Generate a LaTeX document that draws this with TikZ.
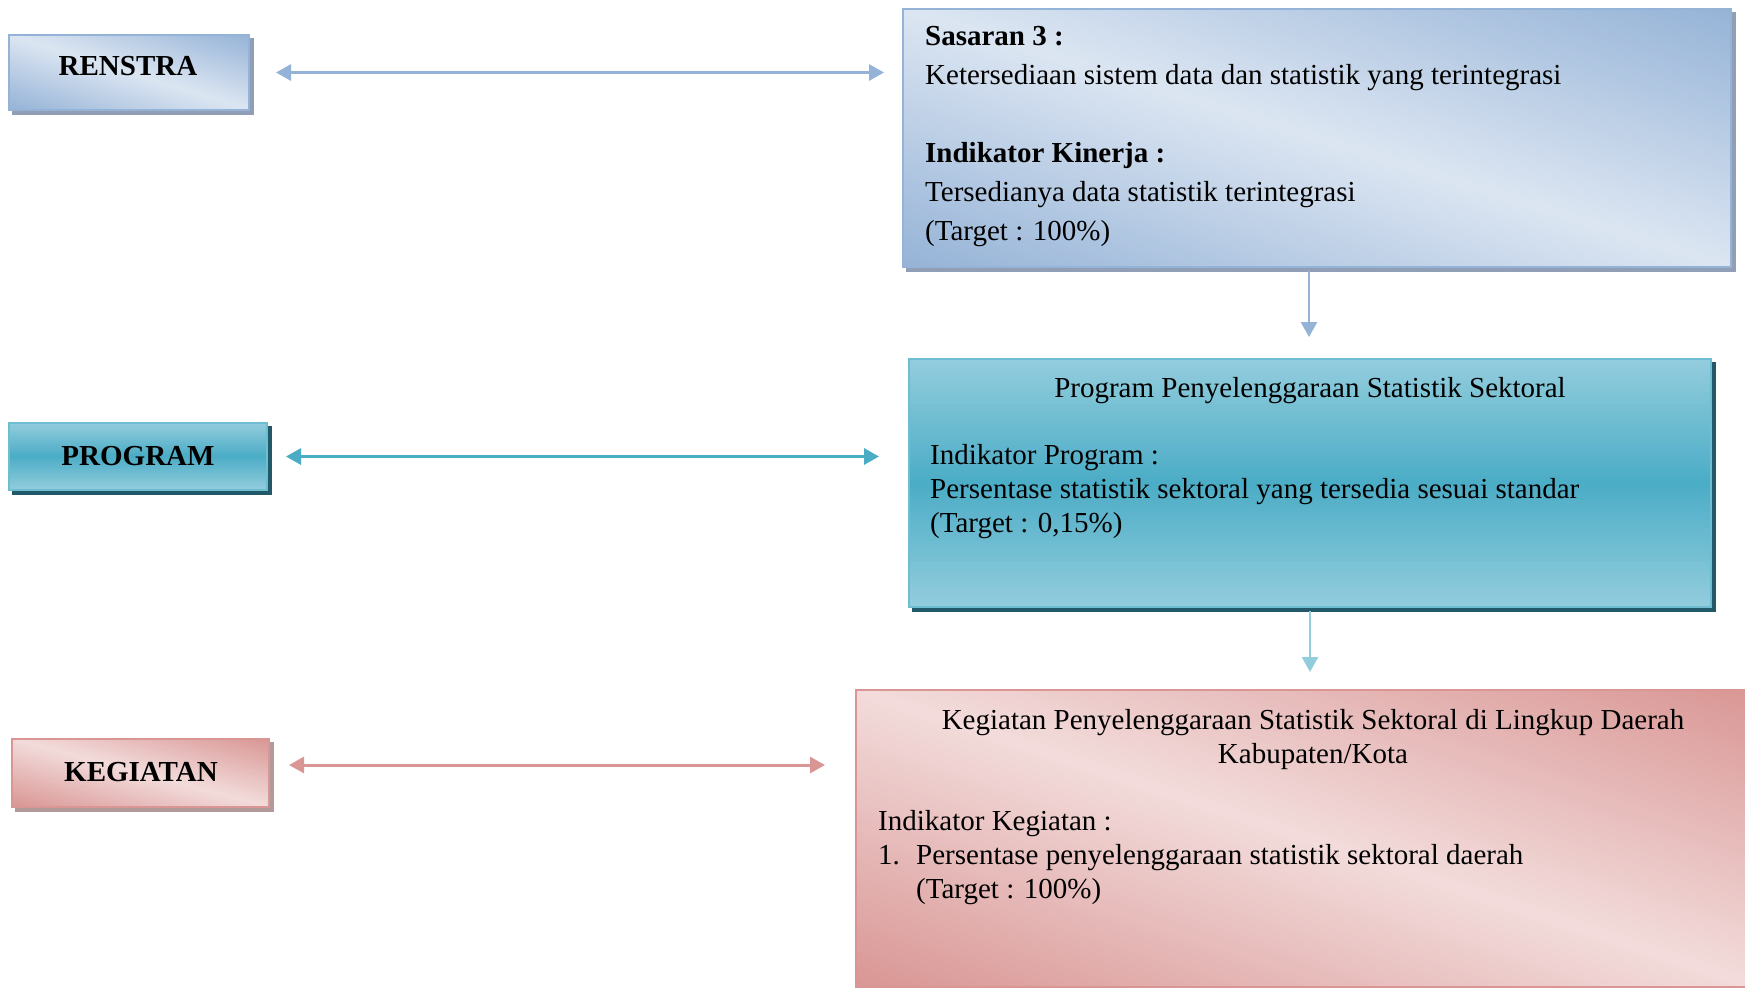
\documentclass[tikz,border=0pt]{standalone}
\usepackage{fontspec}
\setmainfont{Liberation Serif}
\usetikzlibrary{arrows.meta,calc,backgrounds}
\definecolor{blueDark}{HTML}{95B3D7}
\definecolor{blueLight}{HTML}{DCE6F2}
\definecolor{blueShadow}{HTML}{909FB5}
\definecolor{tealLight}{HTML}{93CDDD}
\definecolor{tealMid}{HTML}{4BACC6}
\definecolor{tealShadow}{HTML}{215968}
\definecolor{pinkLight}{HTML}{F2DCDB}
\definecolor{pinkDark}{HTML}{D99694}
\definecolor{pinkShadow}{HTML}{B39A9A}
% diagonal gradient: left, top, width, height, dark, light
\newcommand\diaggrad[6]{%
  \begin{scope}[shift={(#1,#2)}]
  \begin{scope}[x=#3pt, y=-#4pt]
    \clip (0,0) rectangle (1,1);
    \foreach \i in {0,...,79}{%
      \pgfmathsetmacro\ca{2*\i/80-1}%
      \pgfmathsetmacro\cb{2*(\i+1.3)/80-1}%
      \pgfmathsetmacro\pp{abs(2*(\i+0.5)/80-1)*100}%
      \fill[#5!\pp!#6] (-1,-1+\ca) -- (2,2+\ca) -- (2,2+\cb) -- (-1,-1+\cb) -- cycle;
    }
  \end{scope}
  \end{scope}}
% vertical gradient: left, top, width, height, outer, middle
\newcommand\vertgrad[6]{%
  \begin{scope}[shift={(#1,#2)}]
  \begin{scope}[x=#3pt, y=-#4pt]
    \foreach \i in {0,...,59}{%
      \pgfmathsetmacro\ta{\i/60}%
      \pgfmathsetmacro\tb{min((\i+1.3)/60,1)}%
      \pgfmathsetmacro\pp{abs(2*(\i+0.5)/60-1)*100}%
      \fill[#5!\pp!#6] (0,\ta) rectangle (1,\tb);
    }
  \end{scope}
  \end{scope}}
\tikzset{
  box/.style={rectangle, inner sep=0pt, line width=2pt},
  bluebox/.style={box, draw=blueDark},
  tealbox/.style={box, draw=tealMid!80},
  pinkbox/.style={box, draw=pinkDark},
  txt/.style={inner sep=0pt, font=\fontsize{29}{35}\selectfont},
  btxt/.style={inner sep=0pt, font=\fontsize{29}{35}\selectfont\bfseries},
  conn/.style={line width=2.5pt, -{Triangle[length=15pt,width=16pt]}},
  biconn/.style={line width=3pt, {Triangle[length=15pt,width=16pt]}-{Triangle[length=15pt,width=16pt]}},
}
\begin{document}
\begin{tikzpicture}[x=1pt,y=-1pt]
\useasboundingbox (0,0) rectangle (1745,989);
% left label boxes
\node[bluebox, minimum width=240pt, minimum height=75pt] (renstra) at (129,72.5) {};
\node[btxt, anchor=base] (trenstra) at (128,75) {RENSTRA};
\node[tealbox, minimum width=258pt, minimum height=67pt] (program) at (138,456.5) {};
\node[btxt, anchor=base] (tprogram) at (138,465) {PROGRAM};
\node[pinkbox, minimum width=257pt, minimum height=68pt] (kegiatan) at (140.5,773) {};
\node[btxt, anchor=base] (tkegiatan) at (141,781) {KEGIATAN};
% right boxes
\node[bluebox, minimum width=828pt, minimum height=258pt] (sasaran) at (1317,138) {};
\node[btxt, anchor=base west] (s1) at (925,45) {Sasaran 3 :};
\node[txt, anchor=base west] (s2) at (925,84) {Ketersediaan sistem data dan statistik yang terintegrasi};
\node[btxt, anchor=base west] (s3) at (925,162) {Indikator Kinerja :};
\node[txt, anchor=base west] (s4) at (925,201) {Tersedianya data statistik terintegrasi};
\node[txt, anchor=base west] (s5) at (925,240) {(Target : 100\%)};
\node[tealbox, minimum width=802pt, minimum height=248pt] (prog) at (1310,483) {};
\node[txt, anchor=base] (p1) at (1310,397) {Program Penyelenggaraan Statistik Sektoral};
\node[txt, anchor=base west] (p2) at (930,464) {Indikator Program :};
\node[txt, anchor=base west] (p3) at (930,498) {Persentase statistik sektoral yang tersedia sesuai standar};
\node[txt, anchor=base west] (p4) at (930,532) {(Target : 0,15\%)};
\node[pinkbox, minimum width=904pt, minimum height=297pt] (keg) at (1308,838.5) {};
\node[txt, anchor=base] (k1) at (1313,729) {Kegiatan Penyelenggaraan Statistik Sektoral di Lingkup Daerah};
\node[txt, anchor=base] (k2) at (1313,763) {Kabupaten/Kota};
\node[txt, anchor=base west] (k3) at (878,830) {Indikator Kegiatan :};
\node[txt, anchor=base west] (k4) at (878,864) {1.};
\node[txt, anchor=base west] (k5) at (916,864) {Persentase penyelenggaraan statistik sektoral daerah};
\node[txt, anchor=base west] (k6) at (916,898) {(Target : 100\%)};
% shadows and gradient fills
\begin{scope}[on background layer]
\fill[white] (0,0) rectangle (1745,989);
\fill[blueShadow] ($(renstra.north west)+(4,4)$) rectangle ($(renstra.south east)+(4,4)$);
\fill[tealShadow] ($(program.north west)+(4,4)$) rectangle ($(program.south east)+(4,4)$);
\fill[pinkShadow] ($(kegiatan.north west)+(4,4)$) rectangle ($(kegiatan.south east)+(4,4)$);
\fill[blueShadow] ($(sasaran.north west)+(4,4)$) rectangle ($(sasaran.south east)+(4,4)$);
\fill[tealShadow] ($(prog.north west)+(4,4)$) rectangle ($(prog.south east)+(4,4)$);
\diaggrad{9}{35}{240}{75}{blueDark}{blueLight}
\diaggrad{903}{9}{828}{258}{blueDark}{blueLight}
\vertgrad{9}{423}{258}{67}{tealLight}{tealMid}
\vertgrad{909}{359}{802}{248}{tealLight}{tealMid}
\diaggrad{12}{739}{257}{68}{pinkDark}{pinkLight}
\diaggrad{856}{690}{904}{297}{pinkDark}{pinkLight}
\end{scope}
% connectors
\draw[biconn, blueDark, shorten <=26pt, shorten >=18pt] (renstra.east) -- (renstra.east -| sasaran.west);
\draw[biconn, tealMid, shorten <=18pt, shorten >=29pt] (program.east) -- (program.east -| prog.west);
\draw[biconn, pinkDark, shorten <=19pt, shorten >=30pt] ($(kegiatan.east)+(0,-8)$) -- ($(kegiatan.east -| keg.west)+(0,-8)$);
\draw[conn, blueDark, shorten <=3pt, shorten >=21pt] ($(sasaran.south)+(-8,0)$) -- ($(sasaran.south |- prog.north)+(-8,0)$);
\draw[conn, tealLight, shorten <=3pt, shorten >=17pt] (prog.south) -- (prog.south |- keg.north);
\end{tikzpicture}
\end{document}
